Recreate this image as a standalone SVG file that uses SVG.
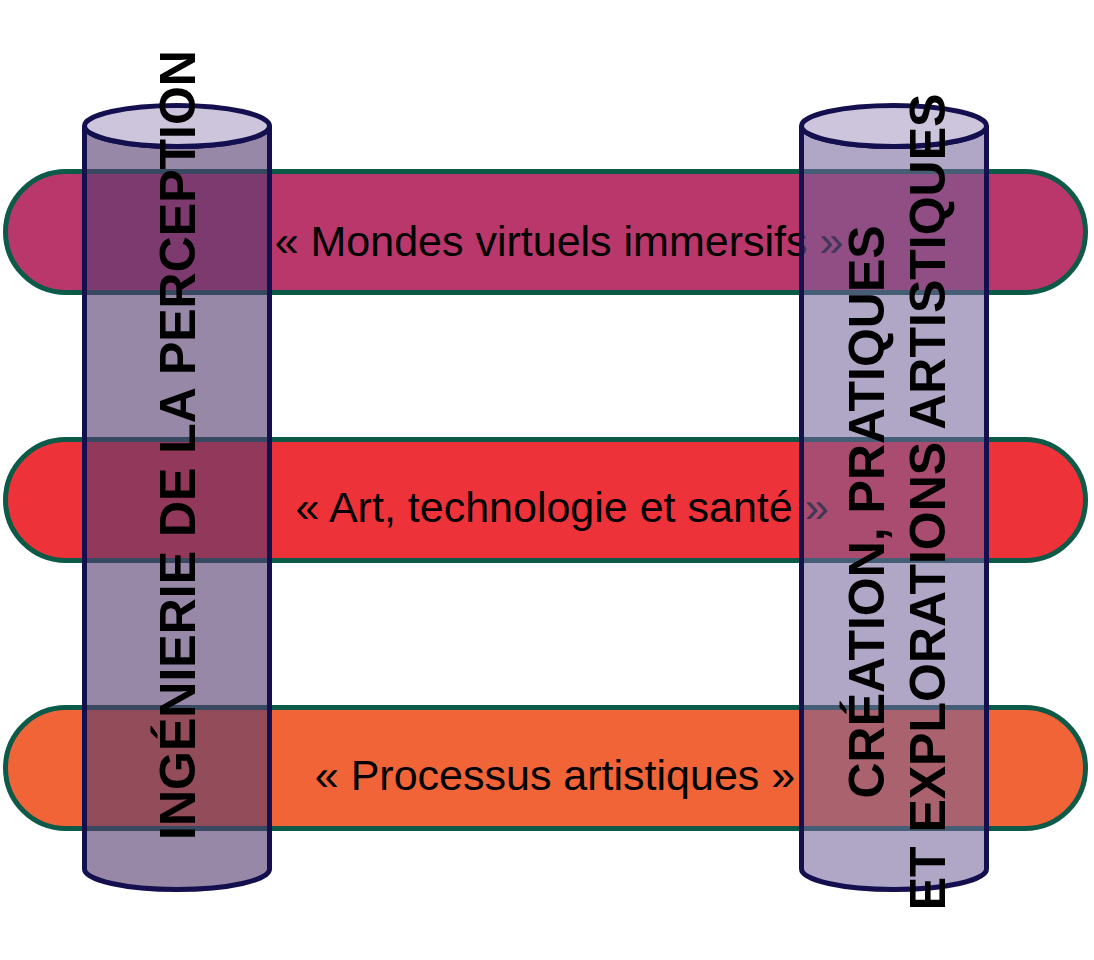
<svg xmlns="http://www.w3.org/2000/svg" width="1094" height="960" viewBox="0 0 1094 960">
<style>
.pill{stroke:#0c5a48;stroke-width:5}
.ptxt{font-family:"Liberation Sans",Arial,sans-serif;font-size:43px;fill:#000;text-anchor:middle}
.body{stroke:#14104f;stroke-width:5}
.top{fill:#cdc5dc;stroke:#14104f;stroke-width:5}
.vtxt{font-family:"Liberation Sans",Arial,sans-serif;font-size:50px;font-weight:bold;fill:#000;text-anchor:middle}
</style>
<rect width="1094" height="960" fill="#fff"/>
<g id="pill-1">
<rect class="pill" x="5.5" y="171.5" width="1080" height="121" rx="60.5" fill="#b9376b"/>
<text class="ptxt" x="559" y="256">« Mondes virtuels immersifs »</text>
</g>
<g id="pill-2">
<rect class="pill" x="5.5" y="439.5" width="1080" height="121" rx="60.5" fill="#ee323a"/>
<text class="ptxt" x="562" y="522">« Art, technologie et santé »</text>
</g>
<g id="pill-3">
<rect class="pill" x="5.5" y="707.5" width="1080" height="121" rx="60.5" fill="#f16438"/>
<text class="ptxt" x="555" y="790">« Processus artistiques »</text>
</g>
<g id="connectors"></g>
<g id="cyl-left">
<path class="body" d="M84.5,126 A92.5,20.5 0 0 0 269.5,126 L269.5,869 A92.5,20.5 0 0 1 84.5,869 Z" fill="#563d70" fill-opacity="0.61"/>
<ellipse class="top" cx="177" cy="126" rx="92.5" ry="20.5"/>
<text class="vtxt" transform="translate(195,445) rotate(-90)">INGÉNIERIE DE LA PERCEPTION</text>
</g>
<g id="cyl-right">
<path class="body" d="M801.5,126 A92.5,20.5 0 0 0 986.5,126 L986.5,869 A92.5,20.5 0 0 1 801.5,869 Z" fill="#72609a" fill-opacity="0.56"/>
<ellipse class="top" cx="894" cy="126" rx="92.5" ry="20.5"/>
<text class="vtxt" transform="translate(884,512) rotate(-90)">CRÉATION, PRATIQUES</text>
<text class="vtxt" transform="translate(945,502) rotate(-90)">ET EXPLORATIONS ARTISTIQUES</text>
</g>
</svg>
